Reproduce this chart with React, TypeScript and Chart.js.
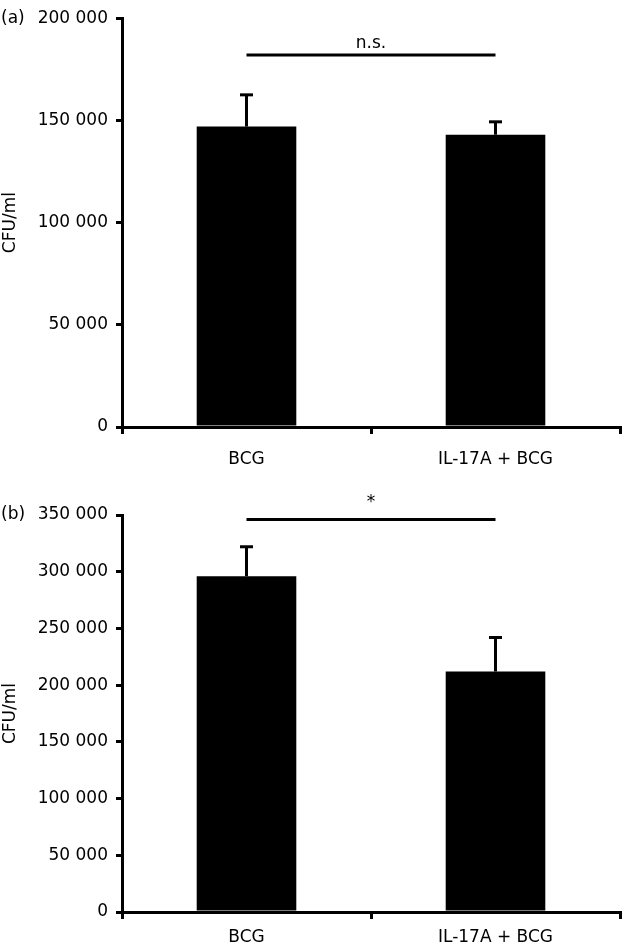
import React, { useEffect, useRef } from 'react';
import { Chart, registerables } from 'chart.js';

Chart.register(...registerables);

const categories = ['BCG', 'IL-17A + BCG'];
const panelLabels = ['(a)', '(b)'];
const meansA = [147000, 143000];
const errorsA = [15500, 6300];
const meansB = [296000, 212000];
const errorsB = [26000, 30000];
const yMaxes = [200000, 350000];
const yStep = 50000;
const sigLevels = [182000, 346000];
const sigLabels = ['n.s.', '*'];
const yTitle = 'CFU/ml';

const FONT = "'DejaVu Sans', sans-serif";

function fmt(v: number) {
  return String(v).replace(/\B(?=(\d{3})+(?!\d))/g, ' ');
}

const annotPlugin = {
  id: 'annot',
  afterDatasetsDraw(chart: any, _args: any, opts: any) {
    const { ctx, chartArea } = chart;
    const xs = chart.scales.x;
    const ys = chart.scales.y;
    const meta = chart.getDatasetMeta(0);
    ctx.save();
    ctx.strokeStyle = '#000';
    ctx.fillStyle = '#000';
    ctx.lineWidth = 3;
    ctx.lineCap = 'butt';
    (opts.errors as number[]).forEach((e, i) => {
      const bar = meta.data[i];
      const cx = bar.x;
      const yTop = ys.getPixelForValue(opts.means[i] + e);
      ctx.beginPath();
      ctx.moveTo(cx, bar.y);
      ctx.lineTo(cx, yTop);
      ctx.stroke();
      ctx.beginPath();
      ctx.moveTo(cx - 6.5, yTop);
      ctx.lineTo(cx + 6.5, yTop);
      ctx.stroke();
    });
    const sy = ys.getPixelForValue(opts.sigLevel);
    const x0 = xs.getPixelForValue(0);
    const x1 = xs.getPixelForValue(1);
    ctx.beginPath();
    ctx.moveTo(x0, sy);
    ctx.lineTo(x1, sy);
    ctx.stroke();
    ctx.font = `17px ${FONT}`;
    ctx.textAlign = 'center';
    ctx.textBaseline = 'alphabetic';
    ctx.fillText(opts.sigLabel, (x0 + x1) / 2, sy - opts.sigOffset);
    ctx.textAlign = 'left';
    ctx.textBaseline = 'middle';
    ctx.font = `17px ${FONT}`;
    ctx.fillText(opts.panel, 1, chartArea.top);
    ctx.restore();
  },
};

function makeConfig(
  idx: number,
  means: number[],
  errors: number[],
  padTop: number,
  xHeight: number,
  xPad: number,
  sigOffset: number
): any {
  const font = { family: FONT, size: 17 };
  return {
    type: 'bar',
    data: {
      labels: categories,
      datasets: [
        {
          data: means,
          backgroundColor: '#000',
          borderWidth: 0,
          barPercentage: 1,
          categoryPercentage: 0.4,
        },
      ],
    },
    options: {
      animation: false,
      responsive: false,
      layout: { padding: { top: padTop, right: 2, left: 0, bottom: 0 } },
      plugins: {
        legend: { display: false },
        tooltip: { enabled: false },
        annot: {
          means,
          errors,
          sigLevel: sigLevels[idx],
          sigLabel: sigLabels[idx],
          sigOffset,
          panel: panelLabels[idx],
        },
      },
      scales: {
        x: {
          grid: {
            display: true,
            drawOnChartArea: false,
            drawTicks: true,
            tickLength: 7,
            lineWidth: 3,
            color: '#000',
            offset: true,
          },
          border: { display: true, color: '#000', width: 3 },
          ticks: { color: '#000', font, padding: xPad, maxRotation: 0 },
          afterFit: (s: any) => {
            s.height = xHeight;
          },
        },
        y: {
          min: 0,
          max: yMaxes[idx],
          ticks: {
            stepSize: yStep,
            callback: (v: number) => fmt(v),
            font,
            color: '#000',
            padding: 8,
          },
          grid: {
            drawOnChartArea: false,
            drawTicks: true,
            tickLength: 6,
            lineWidth: 3,
            color: '#000',
          },
          border: { display: true, color: '#000', width: 3 },
          title: {
            display: true,
            text: yTitle,
            font: { family: FONT, size: 17 },
            color: '#000',
            padding: 0,
          },
          afterFit: (s: any) => {
            s.width = 122;
          },
        },
      },
    },
    plugins: [annotPlugin],
  };
}

export default function App() {
  const refA = useRef<HTMLCanvasElement>(null);
  const refB = useRef<HTMLCanvasElement>(null);

  useEffect(() => {
    const a = new Chart(refA.current as HTMLCanvasElement, makeConfig(0, meansA, errorsA, 17, 60, 15, 7));
    const b = new Chart(refB.current as HTMLCanvasElement, makeConfig(1, meansB, errorsB, 28, 38, 8, 13));
    return () => {
      a.destroy();
      b.destroy();
    };
  }, []);

  return (
    <div style={{ position: 'absolute', left: 0, top: 0, width: 622, height: 950, background: '#fff' }}>
      <canvas ref={refA} width={622} height={487} style={{ position: 'absolute', left: 0, top: 0 }} />
      <canvas ref={refB} width={622} height={463} style={{ position: 'absolute', left: 0, top: 487 }} />
    </div>
  );
}
